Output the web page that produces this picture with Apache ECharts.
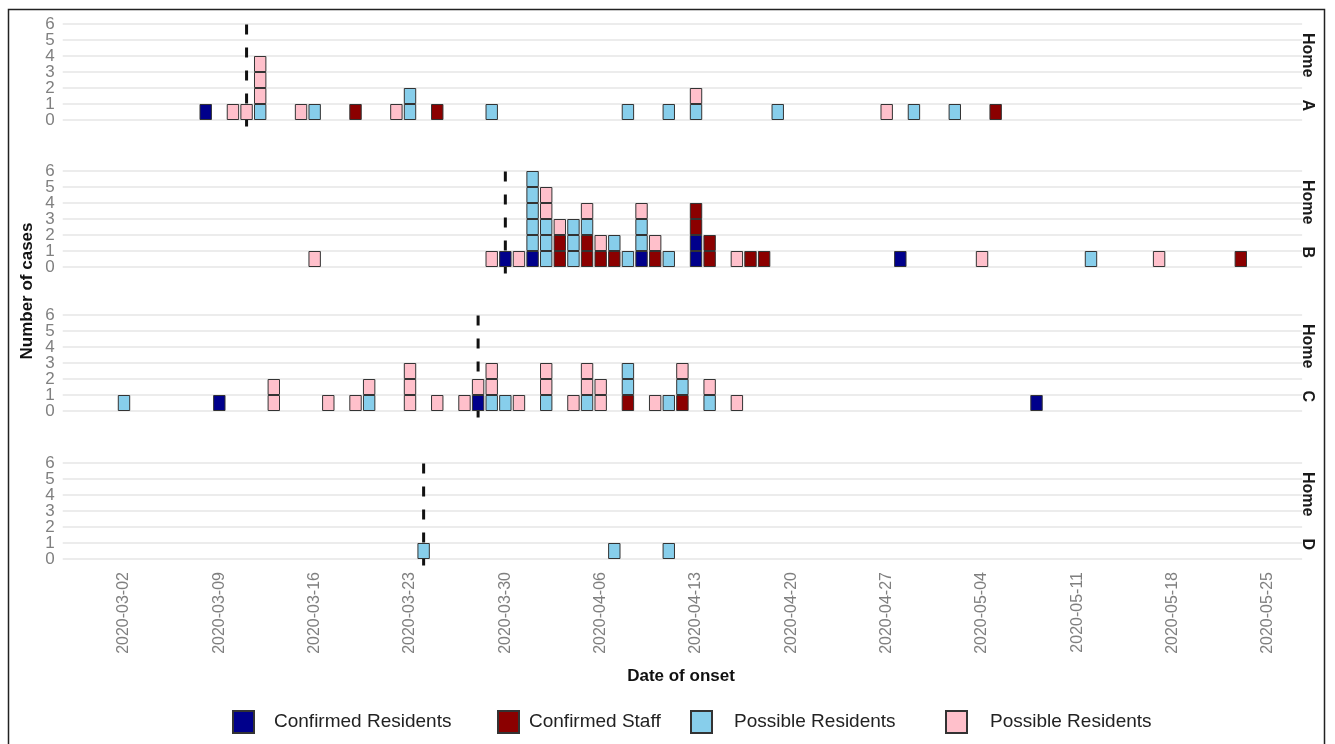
<!DOCTYPE html>
<html>
<head>
<meta charset="utf-8">
<script src="https://cdn.jsdelivr.net/npm/echarts@6/dist/echarts.min.js"></script>
<style>
html,body{margin:0;padding:0;background:#fff;}
#chart{width:1335px;height:744px;}
</style>
</head>
<body>
<div id="chart"></div>
<script>
// ---------------- DATA ----------------
const firstDay = '2020-02-27';      // first category on the date axis
const dayCount = 91;                // number of daily categories
const weekTicks = ['2020-03-02','2020-03-09','2020-03-16','2020-03-23','2020-03-30','2020-04-06',
  '2020-04-13','2020-04-20','2020-04-27','2020-05-04','2020-05-11','2020-05-18','2020-05-25'];
const yTicks = [0,1,2,3,4,5,6];
const panelNames = ['Home     A','Home     B','Home     C','Home     D'];
const typeNames = ['Confirmed Residents','Confirmed Staff','Possible Residents','Possible Residents '];

// [date of onset, number of cases]
const homeA_confirmedResidents = [['2020-03-08',1]];
const homeA_confirmedStaff = [['2020-03-19',1],['2020-03-25',1],['2020-05-05',1]];
const homeA_possibleBlue = [['2020-03-12',1],['2020-03-16',1],['2020-03-23',2],['2020-03-29',1],['2020-04-08',1],
  ['2020-04-11',1],['2020-04-13',1],['2020-04-19',1],['2020-04-29',1],['2020-05-02',1]];
const homeA_possiblePink = [['2020-03-10',1],['2020-03-11',1],['2020-03-12',3],['2020-03-15',1],['2020-03-22',1],
  ['2020-04-13',1],['2020-04-27',1]];

const homeB_confirmedResidents = [['2020-03-30',1],['2020-04-01',1],['2020-04-09',1],['2020-04-13',2],['2020-04-28',1]];
const homeB_confirmedStaff = [['2020-04-03',2],['2020-04-05',2],['2020-04-06',1],['2020-04-07',1],['2020-04-10',1],
  ['2020-04-13',2],['2020-04-14',2],['2020-04-17',1],['2020-04-18',1],['2020-05-23',1]];
const homeB_possibleBlue = [['2020-04-01',5],['2020-04-02',3],['2020-04-04',3],['2020-04-05',1],['2020-04-07',1],
  ['2020-04-08',1],['2020-04-09',2],['2020-04-11',1],['2020-05-12',1]];
const homeB_possiblePink = [['2020-03-16',1],['2020-03-29',1],['2020-03-31',1],['2020-04-02',2],['2020-04-03',1],
  ['2020-04-05',1],['2020-04-06',1],['2020-04-09',1],['2020-04-10',1],['2020-04-16',1],['2020-05-04',1],['2020-05-17',1]];

const homeC_confirmedResidents = [['2020-03-09',1],['2020-03-28',1],['2020-05-08',1]];
const homeC_confirmedStaff = [['2020-04-08',1],['2020-04-12',1]];
const homeC_possibleBlue = [['2020-03-02',1],['2020-03-20',1],['2020-03-29',1],['2020-03-30',1],['2020-04-02',1],
  ['2020-04-05',1],['2020-04-08',2],['2020-04-11',1],['2020-04-12',1],['2020-04-14',1]];
const homeC_possiblePink = [['2020-03-13',2],['2020-03-17',1],['2020-03-19',1],['2020-03-20',1],['2020-03-23',3],
  ['2020-03-25',1],['2020-03-27',1],['2020-03-28',1],['2020-03-29',2],['2020-03-31',1],['2020-04-02',2],
  ['2020-04-04',1],['2020-04-05',2],['2020-04-06',2],['2020-04-10',1],['2020-04-12',1],['2020-04-14',1],['2020-04-16',1]];

const homeD_confirmedResidents = [];
const homeD_confirmedStaff = [];
const homeD_possibleBlue = [['2020-03-24',1],['2020-04-07',1],['2020-04-11',1]];
const homeD_possiblePink = [];

// dashed reference lines (one per home)
const onsetMarkers = ['2020-03-11','2020-03-30','2020-03-28','2020-03-24'];

// ---------------- STYLE / LAYOUT ----------------
const typeColors = ['#00008B','#8B0000','#87CEEB','#FFC0CB'];
const gridTops = [24, 171, 315, 463];
const gridHeight = 96;
const gridLeft = 62.7;
const gridWidth = 1239.4;
const sans = "'Liberation Sans',Arial,sans-serif";
const yLabelStyle = {fontSize: 17, color: '#808080', fontFamily: sans, margin: 8, hideOverlap: false};

const panelData = [
  [homeA_confirmedResidents, homeA_confirmedStaff, homeA_possibleBlue, homeA_possiblePink],
  [homeB_confirmedResidents, homeB_confirmedStaff, homeB_possibleBlue, homeB_possiblePink],
  [homeC_confirmedResidents, homeC_confirmedStaff, homeC_possibleBlue, homeC_possiblePink],
  [homeD_confirmedResidents, homeD_confirmedStaff, homeD_possibleBlue, homeD_possiblePink]
];

const categories = [];
{
  const t0 = Date.parse(firstDay + 'T00:00:00Z');
  for (let i = 0; i < dayCount; i++) categories.push(new Date(t0 + i * 86400000).toISOString().slice(0, 10));
}

const yMin = yTicks[0], yMax = yTicks[yTicks.length - 1];
const grids = [], xAxes = [], yAxes = [], series = [];
panelData.forEach((types, p) => {
  grids.push({left: gridLeft, width: gridWidth, top: gridTops[p], height: gridHeight, containLabel: false});
  xAxes.push({
    type: 'category', gridIndex: p, data: categories, boundaryGap: true,
    axisLine: {show: false}, axisTick: {show: false}, splitLine: {show: false},
    axisLabel: {
      show: p === 3, rotate: 90, fontSize: 16, color: '#7f7f7f', fontFamily: sans, margin: 13,
      interval: (idx, val) => weekTicks.indexOf(val) >= 0
    }
  });
  // main y axis: gridlines at every integer, labels for odd values
  yAxes.push({
    type: 'value', gridIndex: p, position: 'left', offset: 0, min: yMin, max: yMax, interval: 1,
    axisLine: {show: false}, axisTick: {show: false},
    axisLabel: Object.assign({}, yLabelStyle, {showMinLabel: false, showMaxLabel: false,
      formatter: v => (v % 2 === 1 ? String(v) : '')}),
    splitLine: {lineStyle: {color: '#e6e6e6', width: 1.5}}
  });
  // companion y axis: labels for even values
  yAxes.push({
    type: 'value', gridIndex: p, position: 'left', offset: 0, min: yMin, max: yMax, interval: 2,
    axisLine: {show: false}, axisTick: {show: false}, splitLine: {show: false},
    axisLabel: Object.assign({}, yLabelStyle, {showMinLabel: true, showMaxLabel: true})
  });
  const yi = 2 * p;
  // dashed marker line
  series.push({
    type: 'line', xAxisIndex: p, yAxisIndex: yi, silent: true, clip: false, z: 1,
    symbol: 'none', data: [[onsetMarkers[p], -0.4], [onsetMarkers[p], 6.45]],
    lineStyle: {color: '#111', width: 3, type: [10, 13]}
  });
  types.forEach((entries, t) => {
    const counts = {};
    entries.forEach(([d, c]) => { counts[d] = c; });
    const maxC = entries.reduce((m, e) => Math.max(m, e[1]), 0);
    for (let k = 1; k <= maxC; k++) {
      series.push({
        type: 'bar', name: typeNames[t], xAxisIndex: p, yAxisIndex: yi, stack: 'home' + p,
        barWidth: 12.4, silent: true,
        itemStyle: {color: typeColors[t], borderColor: '#333', borderWidth: 1},
        data: categories.map(c => ((counts[c] || 0) >= k ? 1 : '-'))
      });
    }
  });
});

const legendX = [232, 497, 690, 945];
const legendPad = [15, 5, 17, 18];
const legends = typeNames.map((n, i) => ({
  data: [n], left: legendX[i], top: 710, padding: 0, orient: 'horizontal', icon: 'rect',
  itemWidth: 21, itemHeight: 22, selectedMode: false,
  textStyle: {fontSize: 19, fontFamily: sans, color: '#222', padding: [0, 0, 0, legendPad[i]]}
}));

const graphics = [
  {type: 'rect', shape: {x: 8.5, y: 9.5, width: 1316, height: 760}, style: {fill: null, stroke: '#222', lineWidth: 1.5}, silent: true},
  {type: 'text', x: 27, y: 291, rotation: Math.PI / 2,
    style: {text: 'Number of cases', font: 'bold 17px ' + sans, fill: '#111', align: 'center', verticalAlign: 'middle', textAlign: 'center', textVerticalAlign: 'middle'}},
  {type: 'text', x: 681, y: 676,
    style: {text: 'Date of onset', font: 'bold 17px ' + sans, fill: '#111', align: 'center', verticalAlign: 'middle', textAlign: 'center', textVerticalAlign: 'middle'}}
];
gridTops.forEach((top, p) => {
  graphics.push({type: 'text', x: 1307, y: top + gridHeight / 2, rotation: -Math.PI / 2,
    style: {text: panelNames[p], font: 'bold 16px ' + sans, fill: '#1a1a1a', align: 'center', verticalAlign: 'middle', textAlign: 'center', textVerticalAlign: 'middle'}});
});

const chart = echarts.init(document.getElementById('chart'), null, {renderer: 'canvas'});
chart.setOption({
  animation: false,
  backgroundColor: '#fff',
  grid: grids, xAxis: xAxes, yAxis: yAxes,
  legend: legends,
  graphic: graphics,
  series: series
});
</script>
</body>
</html>
